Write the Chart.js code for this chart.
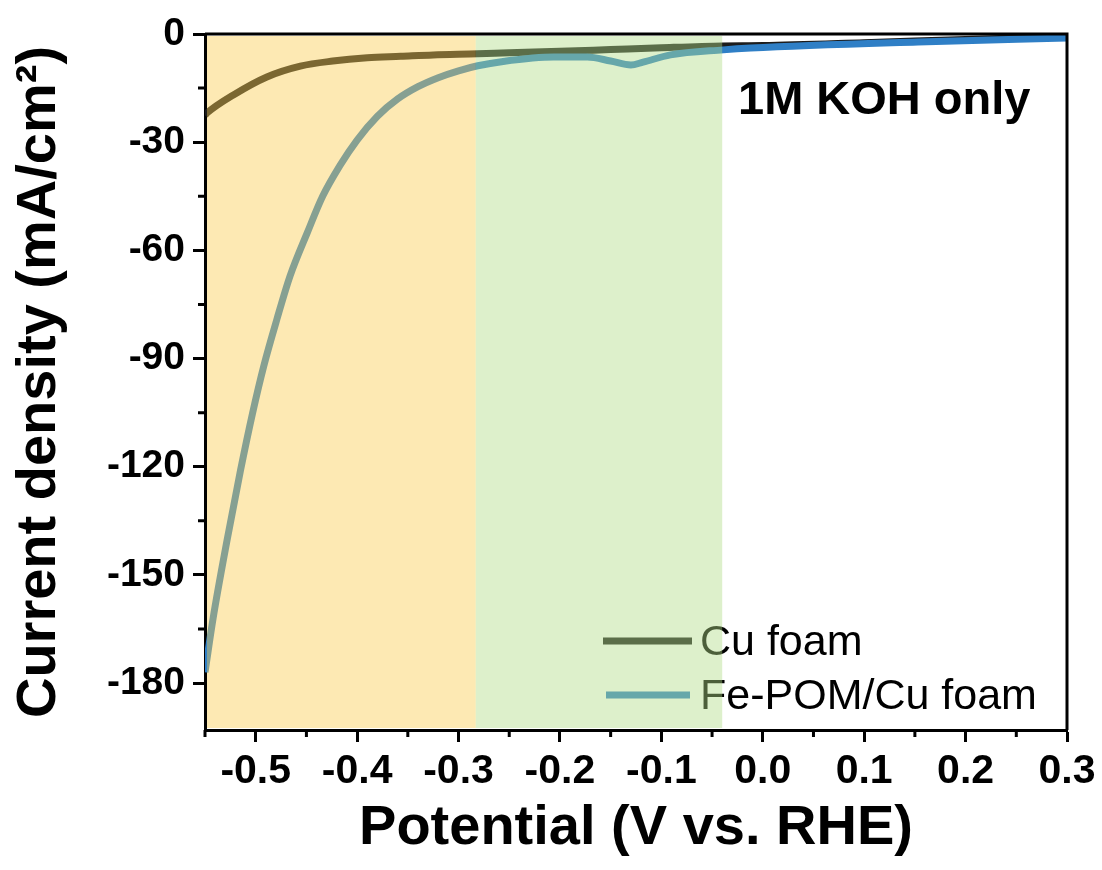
<!DOCTYPE html>
<html>
<head>
<meta charset="utf-8">
<script src="https://cdn.jsdelivr.net/npm/chart.js@4.4.0/dist/chart.umd.min.js"></script>
<style>
  html, body { margin: 0; padding: 0; background: #fff; }
  #wrap { width: 1102px; height: 870px; }
</style>
</head>
<body>
<div id="wrap"><canvas id="myChart" width="1102" height="870"></canvas></div>
<script>
// LSV curves (V vs RHE, mA/cm2)
var cuX = [-0.55, -0.548, -0.522, -0.489, -0.456, -0.424, -0.390, -0.357, -0.325, -0.281, -0.25, -0.2, -0.15, -0.1, -0.04, 0.0, 0.1, 0.2, 0.3];
var cuY = [-22.5, -21.9, -16.9, -11.9, -8.9, -7.5, -6.6, -6.2, -5.8, -5.5, -5.2, -4.8, -4.3, -3.8, -3.3, -3.2, -2.4, -1.5, -0.7];

var feX = [-0.55, -0.542, -0.528, -0.515, -0.503, -0.492, -0.479, -0.466, -0.449, -0.434, -0.417, -0.40, -0.38, -0.36, -0.34, -0.32, -0.30, -0.281, -0.256, -0.206, -0.173, -0.150, -0.130, -0.118, -0.091, -0.039, -0.012, 0.153, 0.3];
var feY = [-177, -162, -140, -121, -105, -92, -79, -67, -55, -45, -36.5, -29.4, -22.8, -18.0, -14.6, -12.1, -10.2, -8.8, -7.6, -6.4, -6.4, -7.5, -8.6, -7.8, -5.8, -4.4, -3.9, -2.2, -1.1];

var seriesNames = ['Cu foam', 'Fe-POM/Cu foam'];

// axis ticks
var xTicks = [-0.5, -0.4, -0.3, -0.2, -0.1, 0.0, 0.1, 0.2, 0.3];
var xMinor = [-0.55, -0.45, -0.35, -0.25, -0.15, -0.05, 0.05, 0.15, 0.25];
var yTicks = [0, -30, -60, -90, -120, -150, -180];
var yMinor = [-15, -45, -75, -105, -135, -165];

// shaded potential windows
var bandYellow = [-0.55, -0.283];
var bandGreen = [-0.283, -0.04];

function toPts(xs, ys) {
    return xs.map(function (x, i) { return { x: x, y: ys[i] }; });
}

var tickFont = { family: "'Liberation Sans', Arial, sans-serif", weight: 'bold' };

var decor = {
    id: 'decor',
    afterDatasetsDraw: function (chart) {
        var ctx = chart.ctx;
        var ca = chart.chartArea;
        var xs = chart.scales.x, ys = chart.scales.y;
        ctx.save();

        // legend inside plot
        var rows = [[603, 692, 641], [606, 690, 695]];
        ctx.font = "43px 'Liberation Sans', Arial, sans-serif";
        ctx.textBaseline = 'alphabetic';
        chart.data.datasets.forEach(function (ds, i) {
            var r = rows[i];
            ctx.strokeStyle = ds.borderColor;
            ctx.lineWidth = 7;
            ctx.beginPath();
            ctx.moveTo(r[0], r[2]);
            ctx.lineTo(r[1], r[2]);
            ctx.stroke();
            ctx.fillStyle = '#000';
            ctx.fillText(ds.label, 700, r[2] + 14);
        });

        // translucent bands on top of the curves
        function band(b, col) {
            var x0 = xs.getPixelForValue(b[0]), x1 = xs.getPixelForValue(b[1]);
            x0 = Math.max(x0, ca.left + 2);
            ctx.fillStyle = col;
            ctx.fillRect(x0, ca.top + 2, x1 - x0, ca.bottom - ca.top - 4);
        }
        band(bandYellow, 'rgba(251,204,78,0.43)');
        band(bandGreen, 'rgba(176,220,134,0.43)');

        // frame on top/right
        ctx.strokeStyle = '#000';
        ctx.lineWidth = 3;
        ctx.beginPath();
        ctx.moveTo(ca.left, ca.top);
        ctx.lineTo(ca.right, ca.top);
        ctx.lineTo(ca.right, ca.bottom);
        ctx.stroke();

        // minor ticks
        ctx.beginPath();
        xMinor.forEach(function (v) {
            var px = xs.getPixelForValue(v);
            ctx.moveTo(px, ca.bottom);
            ctx.lineTo(px, ca.bottom + 7);
        });
        yMinor.forEach(function (v) {
            var py = ys.getPixelForValue(v);
            ctx.moveTo(ca.left, py);
            ctx.lineTo(ca.left - 7, py);
        });
        ctx.stroke();

        // annotation
        ctx.fillStyle = '#000';
        ctx.font = "bold 47px 'Liberation Sans', Arial, sans-serif";
        ctx.fillText('1M KOH only', 738, 114);
        ctx.restore();
    }
};

var ctx = document.getElementById('myChart').getContext('2d');
var myChart = new Chart(ctx, {
    type: 'line',
    data: {
        datasets: [{
            label: seriesNames[0],
            data: toPts(cuX, cuY),
            borderColor: '#1c1c1c',
            borderWidth: 7,
            pointRadius: 0,
            order: 1,
            cubicInterpolationMode: 'monotone'
        }, {
            label: seriesNames[1],
            data: toPts(feX, feY),
            borderColor: '#2f7fc6',
            borderWidth: 7,
            pointRadius: 0,
            order: 0,
            cubicInterpolationMode: 'monotone'
        }]
    },
    options: {
        responsive: false,
        animation: false,
        layout: { padding: { left: 0, top: 34, right: 35, bottom: 0 } },
        plugins: {
            legend: { display: false },
            tooltip: { enabled: false }
        },
        scales: {
            x: {
                type: 'linear',
                min: -0.55,
                max: 0.3,
                afterBuildTicks: function (s) { s.ticks = xTicks.map(function (v) { return { value: v }; }); },
                afterFit: function (s) { s.height = 140; },
                border: { display: true, color: '#000', width: 3 },
                grid: { drawOnChartArea: false, drawTicks: true, tickLength: 12, tickWidth: 3, tickColor: '#000' },
                ticks: {
                    color: '#000',
                    padding: 5,
                    maxRotation: 0,
                    font: Object.assign({ size: 41 }, tickFont),
                    callback: function (v) { return Number(v).toFixed(1); }
                },
                title: {
                    display: true,
                    text: 'Potential (V vs. RHE)',
                    color: '#000',
                    padding: { top: 0, bottom: 8 },
                    font: { family: "'Liberation Sans', Arial, sans-serif", weight: 'bold', size: 56 }
                }
            },
            y: {
                type: 'linear',
                min: -193,
                max: 0,
                afterBuildTicks: function (s) { s.ticks = yTicks.map(function (v) { return { value: v }; }); },
                afterFit: function (s) { s.width = 205; },
                border: { display: true, color: '#000', width: 3 },
                grid: { drawOnChartArea: false, drawTicks: true, tickLength: 12, tickWidth: 3, tickColor: '#000' },
                ticks: {
                    color: '#000',
                    padding: 8,
                    font: Object.assign({ size: 39 }, tickFont),
                    callback: function (v) { return String(v); }
                },
                title: {
                    display: true,
                    text: 'Current density (mA/cm²)',
                    color: '#000',
                    padding: { top: 6, bottom: 0 },
                    font: { family: "'Liberation Sans Narrow', 'Liberation Sans', Arial, sans-serif", weight: 'bold', size: 56 }
                }
            }
        }
    },
    plugins: [decor]
});
</script>
</body>
</html>
